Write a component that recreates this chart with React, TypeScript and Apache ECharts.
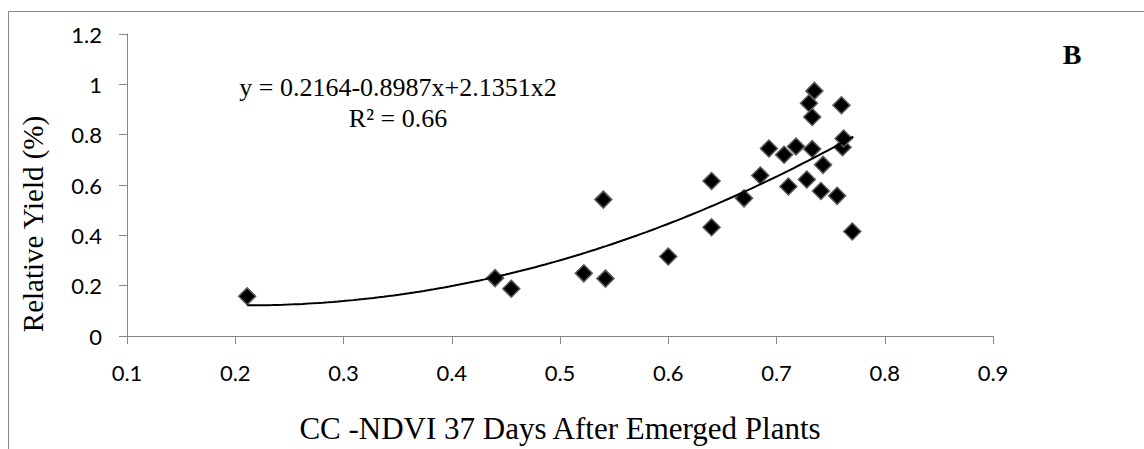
import React, { useEffect, useRef } from "react";
import * as echarts from "echarts";

// Scatter data: CC-NDVI 37 days after emergence vs relative yield
const ndviValues = [
  0.211, 0.44, 0.455, 0.522, 0.542, 0.54, 0.6, 0.64, 0.64, 0.67, 0.685, 0.693, 0.707, 0.711,
  0.718, 0.728, 0.73, 0.733, 0.735, 0.733, 0.741, 0.743, 0.756, 0.76, 0.761, 0.762, 0.77,
];
const yieldValues = [
  0.158, 0.23, 0.188, 0.249, 0.228, 0.542, 0.316, 0.616, 0.432, 0.547, 0.638, 0.745, 0.72, 0.594,
  0.753, 0.622, 0.925, 0.87, 0.974, 0.743, 0.576, 0.68, 0.557, 0.917, 0.75, 0.785, 0.415,
];

// Polynomial trend line coefficients (y = c0 + c1 x + c2 x^2) as stated on the chart
const trendCoefficients = [0.2164, -0.8987, 2.1351];
const trendRange = [0.211, 0.771];

const equationText = "y = 0.2164-0.8987x+2.1351x2";
const r2Text = "R² = 0.66";
const panelLabel = "B";
const xAxisTitle = "CC -NDVI 37 Days After Emerged Plants";
const yAxisTitle = "Relative Yield (%)";

export default function App() {
  const ref = useRef<HTMLDivElement>(null);

  useEffect(() => {
    if (!ref.current) return;
    const chart = echarts.init(ref.current, null, { renderer: "svg" });

    const scatterData = ndviValues.map((x, i) => [x, yieldValues[i]]);
    const trendData: number[][] = [];
    const steps = 120;
    for (let i = 0; i <= steps; i++) {
      const x = trendRange[0] + ((trendRange[1] - trendRange[0]) * i) / steps;
      const y = trendCoefficients[0] + trendCoefficients[1] * x + trendCoefficients[2] * x * x;
      trendData.push([x, y]);
    }

    const axisGrey = "#868686";
    const fmt = (v: number) => String(Number(v.toFixed(1)));

    chart.setOption({
      animation: false,
      backgroundColor: "#ffffff",
      grid: { left: 127, right: 151, top: 34, bottom: 96, containLabel: false },
      xAxis: {
        type: "value",
        min: 0.1,
        max: 0.9,
        interval: 0.1,
        name: xAxisTitle,
        nameLocation: "middle",
        nameGap: 77,
        nameTextStyle: { fontFamily: "Liberation Serif", fontSize: 31, color: "#000" },
        axisLine: { show: true, onZero: false, lineStyle: { color: axisGrey, width: 1 } },
        axisTick: { show: true, inside: false, length: 8, lineStyle: { color: axisGrey } },
        axisLabel: { margin: 25, fontFamily: "Lato", fontSize: 22, color: "#000", formatter: fmt },
        splitLine: { show: false },
      },
      yAxis: {
        type: "value",
        min: 0,
        max: 1.2,
        interval: 0.2,
        axisLine: { show: true, onZero: false, lineStyle: { color: axisGrey, width: 1 } },
        axisTick: { show: true, inside: false, length: 8, lineStyle: { color: axisGrey } },
        axisLabel: { margin: 25, fontFamily: "Lato", fontSize: 22, color: "#000", formatter: fmt },
        splitLine: { show: false },
      },
      series: [
        {
          type: "scatter",
          data: scatterData,
          symbol: "diamond",
          symbolSize: 17,
          itemStyle: { color: "#000000", borderColor: "#5a5a5a", borderWidth: 1.5, opacity: 1 },
          z: 2,
        },
        {
          type: "line",
          data: trendData,
          showSymbol: false,
          symbol: "none",
          smooth: false,
          lineStyle: { color: "#000000", width: 2 },
          z: 3,
        },
      ],
      graphic: [
        {
          type: "rect",
          shape: { x: 8.5, y: 11.5, width: 1400, height: 700 },
          style: { fill: "none", stroke: "#898989", lineWidth: 1 },
          silent: true,
        },
        {
          type: "text",
          x: 398,
          y: 87,
          style: {
            text: equationText,
            font: '26px "Liberation Serif"',
            fill: "#000",
            textAlign: "center",
            textVerticalAlign: "middle",
          },
        },
        {
          type: "text",
          x: 398,
          y: 118,
          style: {
            text: r2Text,
            font: '26px "Liberation Serif"',
            fill: "#000",
            textAlign: "center",
            textVerticalAlign: "middle",
          },
        },
        {
          type: "text",
          x: 1072,
          y: 54,
          style: {
            text: panelLabel,
            font: 'bold 28px "Liberation Serif"',
            fill: "#000",
            textAlign: "center",
            textVerticalAlign: "middle",
          },
        },
        {
          type: "text",
          x: 33,
          y: 224,
          rotation: Math.PI / 2,
          style: {
            text: yAxisTitle,
            font: '29px "Liberation Serif"',
            fill: "#000",
            textAlign: "center",
            textVerticalAlign: "middle",
          },
        },
      ],
    });

    return () => chart.dispose();
  }, []);

  return (
    <div
      ref={ref}
      style={{ position: "absolute", left: 0, top: 0, width: 1144, height: 449 }}
    />
  );
}
